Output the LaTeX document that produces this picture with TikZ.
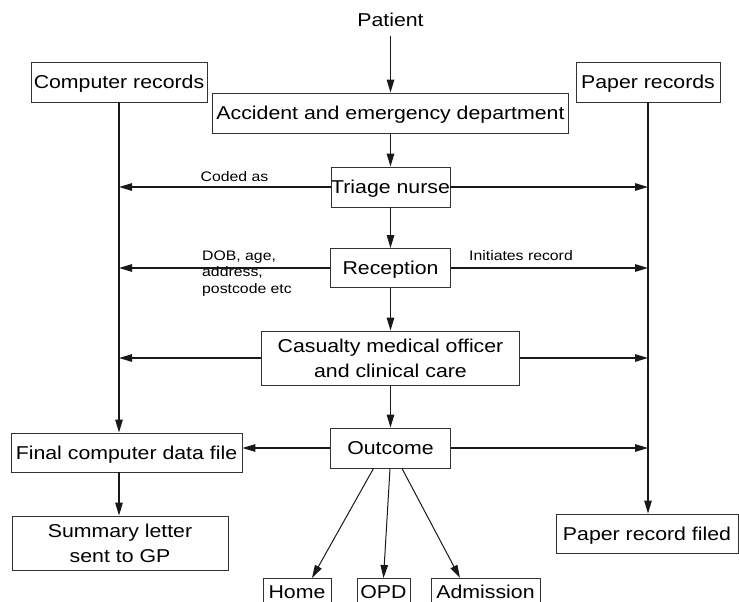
\documentclass[tikz,border=0pt]{standalone}
\usepackage{fontspec}
\setmainfont{Liberation Sans}[FakeStretch=1.145]
\usetikzlibrary{arrows.meta,calc}
\newcommand\mainsz{\fontsize{18.6pt}{25pt}\selectfont}
\newcommand\smallsz{\fontsize{13.8pt}{16.6pt}\selectfont}
\begin{document}
\begin{tikzpicture}[x=1pt,y=-1pt,
  box/.style={draw=black!80, line width=0.9pt, rectangle, inner sep=0pt, font=\mainsz, text height=13.3pt, text depth=0pt, align=center},
  boxtwo/.style={draw=black!80, line width=0.9pt, rectangle, inner sep=0pt, font=\mainsz, align=center},
  boxb/.style={box, anchor=north, inner ysep=7pt, text height=13.5pt, text depth=4pt},
  lab/.style={font=\smallsz, inner sep=0pt},
  arr/.style={-{Triangle[length=13pt,width=7.5pt]}, line width=1.3pt, draw=black!90},
  arrthin/.style={-{Triangle[length=13pt,width=7.5pt]}, line width=1pt, draw=black!90}]
\useasboundingbox (0,0) rectangle (739,602);
\clip (0,0) rectangle (739,602);
\node[font=\mainsz, anchor=base, inner sep=0pt] (pat) at (390.5,27) {Patient};
\node[box, minimum width=176pt, minimum height=40pt] (cr) at (119,82) {Computer records};
\node[box, minimum width=144pt, minimum height=40pt] (pr) at (648,82) {Paper records};
\node[box, minimum width=356pt, minimum height=40pt] (ae) at (390.5,113) {Accident and emergency department};
\node[box, minimum width=119pt, minimum height=40pt] (tn) at (390.5,187) {Triage nurse};
\node[box, minimum width=120pt, minimum height=39pt] (rec) at (390.5,268) {Reception};
\node[boxtwo, minimum width=258pt, minimum height=54pt] (cas) at (390.5,358) {Casualty medical officer\\and clinical care};
\node[box, minimum width=120pt, minimum height=40pt] (out) at (390.5,448) {Outcome};
\node[box, minimum width=231pt, minimum height=39pt] (fin) at (126.5,452.5) {Final computer data file};
\node[boxtwo, minimum width=216pt, minimum height=54pt] (sum) at (120,543) {Summary letter\\sent to GP};
\node[box, minimum width=182pt, minimum height=39pt] (prf) at (647,533.5) {Paper record filed};
\node[boxb, minimum width=68pt] (home) at (297,578) {Home};
\node[boxb, minimum width=53pt] (opd) at (383.5,578) {OPD};
\node[boxb, minimum width=109pt] (adm) at (485.5,578) {Admission};
\node[lab, anchor=base] (coded) at (234.5,181) {Coded as};
\node[lab, anchor=north west, align=left] (dob) at (202,250.5) {DOB, age,\\address,\\postcode etc};
\node[lab, anchor=base] (init) at (521,260) {Initiates record};
\draw[arr, shorten <=9pt] (pat.south) -- (ae.north);
\draw[arr] (ae.south) -- (tn.north);
\draw[arr] (tn.south) -- (rec.north);
\draw[arr] (rec.south) -- (cas.north);
\draw[arr] (cas.south) -- (out.north);
\draw[arr] (cr.south) -- (cr.south |- fin.north);
\draw[arr] (cr.south |- fin.south) -- (cr.south |- sum.north);
\draw[arr] (pr.south) -- (pr.south |- prf.north);
\foreach \n in {tn,rec,cas} {
  \draw[arr] (\n.west) -- (\n.west -| cr.south);
  \draw[arr] (\n.east) -- (\n.east -| pr.south);
}
\draw[arr] (out.west) -- (out.west -| fin.east);
\draw[arr] (out.east) -- (out.east -| pr.south);
\draw[arrthin] ($(out.south)+(-17,0)$) -- ($(home.north)+(15,0)$);
\draw[arrthin] ($(out.south)+(-0.5,0)$) -- (opd.north);
\draw[arrthin] ($(out.south)+(11.5,0)$) -- ($(adm.north)+(-25.5,0)$);
\end{tikzpicture}
\end{document}
